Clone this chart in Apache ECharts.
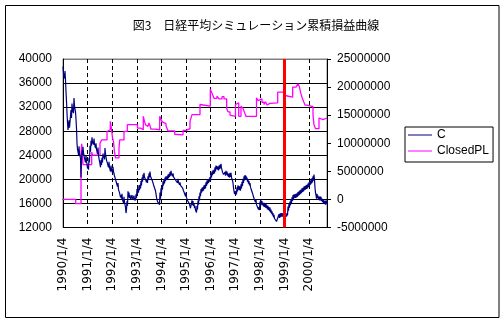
<!DOCTYPE html>
<html><head><meta charset="utf-8">
<script src="https://cdn.jsdelivr.net/npm/echarts@6/dist/echarts.min.js"></script>
<style>html,body{margin:0;padding:0;background:#fff}#c{width:504px;height:325px}</style>
</head><body><div id="c"></div>
<script>
const titleText = '図3　日経平均シミュレーション累積損益曲線';
const seriesNames = ['C', 'ClosedPL'];
const xMinYear = 1990;
const xMaxYear = 2000.732;
const leftTicks = { min: 12000, max: 40000, step: 4000 };
const rightTicks = { min: -5000000, max: 25000000, step: 5000000 };
const redLineYear = 1999;

// Nikkei close (C), read about every 2 weeks from 1990/1/4: upper trace and lower swing of each step
const cStartYear = 1990;
const cStepYears = 0.04065;
const cValues = [
38700,37400,38000,34500,31000,28200,29800,28900,31500,32600,31800,33500,32400,30000,26000,24600,25500,24000,20300,24800,
25400,24600,23200,24000,22600,22200,23600,25600,26400,27000,26400,26800,25800,26000,24800,25300,23800,22600,23200,23600,
24300,24000,25200,24000,23400,22600,22900,21900,22300,21700,22100,21400,20600,20200,19500,19400,18400,18000,17400,17600,
16700,17100,16200,14400,16400,18000,17800,17400,17000,17400,16900,17300,16900,17500,18400,18400,19000,19100,19700,20300,
20800,21100,20600,20200,19900,20500,21000,21300,20700,20300,19800,19400,18900,17600,16900,16500,16300,17800,18500,19000,
19700,19900,20300,20500,20500,20800,20900,21200,21400,21100,21000,20600,20500,20200,19900,20100,19600,19500,19300,19200,
18700,18400,17900,17800,17200,16800,16500,15800,15300,16500,16400,16000,15600,14800,15600,16500,17200,17800,18400,18600,
18700,19000,19100,19500,19800,19900,20100,20400,21000,21300,21500,21600,22000,22300,22200,22100,22300,22400,22600,21900,
21400,21100,21200,21400,21300,21000,20900,21100,21100,20600,19400,18500,18000,18100,18700,19000,18900,18800,19200,19600,
20100,20500,20700,20600,20300,20000,19700,19400,19000,18500,17900,17400,16900,16600,16100,15700,15400,16300,16500,16400,
16100,16100,16000,15900,15700,15600,15400,15300,15000,14700,14400,14100,13800,13600,13300,13100,14200,14300,14400,14400,
14300,14200,14300,14200,14400,15500,16000,16300,16700,17000,17400,17500,17500,17600,17700,17900,18000,18200,18300,18500,
18600,18800,18900,19000,19100,19300,19500,19700,20000,20200,20500,20800,18600,17400,17600,17300,17100,17200,17100,16800,
16700,16500,16400,16500,16400
];
const cLowValues = [
37600,36800,36500,33000,29500,27900,28600,28400,30200,31500,31000,32200,31200,28500,25000,24000,24300,23500,23000,24000,
24400,23500,22800,23000,21800,21600,22800,24600,25600,26200,25800,25900,25200,25000,24200,24000,23000,22000,22400,22800,
23600,23300,24200,23200,22600,22000,22000,21300,21600,21100,21300,20600,20000,19400,18800,18300,17800,17000,16800,16600,
16100,16200,15400,15000,15600,17000,16900,16700,16500,16600,16400,16500,16500,16900,17600,17800,18200,18500,19000,19600,
20100,20400,20000,19500,19400,19900,20300,20500,20100,19700,19100,18600,18100,17000,16300,16000,15800,16800,17800,18300,
19000,19300,19700,19900,20000,20200,20400,20600,20900,20500,20400,20100,19900,19700,19400,19500,19100,19000,18800,18600,
18100,17700,17200,17000,16500,16200,15900,15200,15000,15700,15600,15200,14900,14500,15000,15800,16500,17200,17800,18000,
18100,18400,18500,18900,19200,19400,19600,19800,20300,20700,20900,21000,21300,21700,21600,21500,21700,21800,21900,21200,
20800,20500,20600,20800,20600,20400,20300,20400,20300,19800,18600,17600,17400,17500,18000,18300,18200,18100,18500,18900,
19400,19800,20000,19900,19600,19300,19000,18700,18200,17700,17100,16600,16200,15800,15400,15000,14900,15500,15800,15700,
15500,15400,15300,15200,15000,14900,14700,14500,14300,14000,13700,13500,13200,13000,12900,13200,13600,13700,13800,13800,
13800,13700,13800,13800,14000,14800,15300,15700,16100,16400,16700,16900,16900,17000,17100,17300,17400,17600,17700,17900,
18000,18200,18300,18400,18500,18700,18900,19100,19300,19500,19800,20000,17800,16800,16900,16700,16500,16500,16400,16200,
16000,15900,15800,15900,15900
];

// Cumulative closed P/L (step changes): year of change and new level
const plYears = [
1990.000,1990.516,1990.732,1990.760,1990.813,1991.167,1991.199,1991.504,1991.573,1991.789,
1991.870,1991.923,1991.972,1992.012,1992.053,1992.093,1992.134,1992.276,1992.305,1992.480,
1992.614,1992.886,1992.967,1993.028,1993.159,1993.264,1993.313,1993.354,1993.394,1993.455,
1993.496,1993.537,1993.577,1993.740,1993.931,1993.984,1994.037,1994.085,1994.187,1994.268,
1994.541,1994.606,1994.878,1995.000,1995.163,1995.244,1995.569,1995.650,1995.988,1996.057,
1996.138,1996.260,1996.341,1996.463,1996.545,1996.654,1996.707,1996.789,1996.870,1997.012,
1997.093,1997.142,1997.236,1997.317,1997.378,1997.439,1997.866,1997.927,1998.008,1998.089,
1998.171,1998.232,1998.293,1998.354,1998.415,1998.728,1998.943,1999.024,1999.065,1999.337,
1999.472,1999.553,1999.614,1999.654,1999.715,1999.776,1999.837,1999.919,2000.163,2000.203,
2000.264,2000.407,2000.447,2000.569,2000.732
];
const plValues = [
0,-750000,8000000,9900000,6200000,8400000,7900000,10000000,10600000,12100000,
12400000,13900000,12500000,11000000,10300000,8500000,7400000,9100000,10600000,12100000,
13300000,13600000,13300000,12700000,12400000,14800000,13900000,13300000,13000000,13300000,
13600000,13100000,12500000,12400000,14800000,14200000,13800000,13500000,13100000,12200000,
11600000,11500000,12300000,12600000,13900000,15100000,16900000,16600000,19600000,18900000,
18000000,18400000,17900000,18300000,17900000,16200000,15600000,15000000,14800000,16900000,
17200000,14800000,16600000,16200000,15500000,14800000,18100000,17600000,17900000,17300000,
16900000,17400000,16800000,17100000,17200000,19100000,19300000,18500000,18200000,20000000,
19800000,20600000,20000000,19100000,18200000,17500000,16800000,16500000,15000000,13300000,
12600000,14500000,14200000,14500000,14500000
];

const cData = [];
cValues.forEach((v, i) => {
  const y = cStartYear + i * cStepYears;
  cData.push([y, v]);
  cData.push([y + cStepYears / 2, cLowValues[i]]);
});
const plData = plYears.map((y, i) => [y, plValues[i]]);

const numFont = 'Liberation Sans';
const gridColors = [];
for (let v = leftTicks.min; v <= leftTicks.max; v += leftTicks.step) gridColors.push(v === leftTicks.max ? '#808080' : '#000');

const chart = echarts.init(document.getElementById('c'), null, { renderer: 'canvas' });
chart.setOption({
  animation: false,
  backgroundColor: '#fff',
  graphic: [{
    type: 'rect', shape: { x: 5.5, y: 5.5, width: 493.5, height: 312 },
    style: { fill: 'none', stroke: '#000', lineWidth: 1 }, silent: true, z: -1
  }],
  title: {
    text: titleText, left: 251, top: 14, textAlign: 'center',
    textStyle: { fontFamily: 'Noto Sans CJK JP', fontSize: 12, fontWeight: 'normal', color: '#000' }
  },
  legend: {
    orient: 'vertical', left: 405, top: 127,
    itemWidth: 24, itemHeight: 1, itemGap: 2, icon: 'rect',
    padding: [1, 4, 4, 3], borderColor: '#000', borderWidth: 1,
    textStyle: { fontFamily: numFont, fontSize: 12, color: '#000', lineHeight: 14 },
    data: seriesNames
  },
  grid: { left: 63, right: 177, top: 59, bottom: 97.5, show: true, borderColor: '#808080', borderWidth: 1 },
  xAxis: {
    type: 'value', min: xMinYear, max: xMaxYear, interval: 1,
    axisLine: { lineStyle: { color: '#000', width: 1 } },
    axisTick: { show: false },
    splitLine: { show: true, lineStyle: { color: '#000', type: [4, 3], width: 1 } },
    axisLabel: {
      rotate: 90, margin: 10, color: '#000', fontFamily: 'DejaVu Sans', fontSize: 12,
      showMaxLabel: false,
      formatter: v => Number.isInteger(v) ? v + '/1/4' : ''
    }
  },
  yAxis: [{
    type: 'value', min: leftTicks.min, max: leftTicks.max, interval: leftTicks.step,
    axisLine: { show: true, lineStyle: { color: '#000' } },
    axisTick: { show: false },
    splitLine: { show: true, lineStyle: { color: gridColors, width: 1 } },
    axisLabel: { margin: 11, color: '#000', fontFamily: numFont, fontSize: 12, formatter: v => String(v) }
  }, {
    type: 'value', min: rightTicks.min, max: rightTicks.max, interval: rightTicks.step,
    position: 'right',
    axisLine: { show: true, lineStyle: { color: '#000' } },
    axisTick: { show: true, length: 4, lineStyle: { color: '#000' } },
    splitLine: { show: false },
    axisLabel: { margin: 10, color: '#000', fontFamily: numFont, fontSize: 12, formatter: v => String(v) }
  }],
  series: [{
    name: seriesNames[0], type: 'line', yAxisIndex: 0, data: cData,
    showSymbol: false, symbol: 'none', color: '#000080',
    lineStyle: { color: '#000080', width: 1.2 },
    markLine: {
      silent: true, symbol: 'none', label: { show: false },
      lineStyle: { color: '#ff0000', width: 3, type: 'solid' },
      data: [{ xAxis: redLineYear }]
    },
    z: 3
  }, {
    name: seriesNames[1], type: 'line', yAxisIndex: 1, data: plData, step: 'end',
    showSymbol: false, symbol: 'none', color: '#ff00ff',
    lineStyle: { color: '#ff00ff', width: 1.3 }, z: 2
  }]
});
</script></body></html>
